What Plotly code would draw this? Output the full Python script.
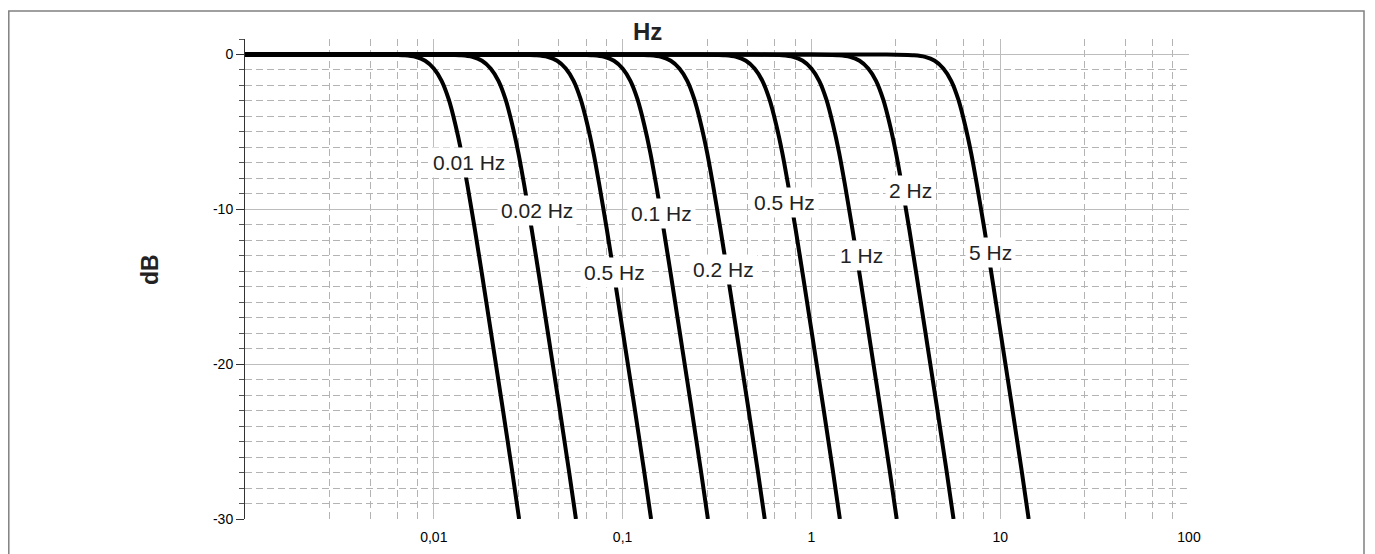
import math
import plotly.graph_objects as go

# ---------------- data ----------------
cutoffs = [0.01, 0.02, 0.05, 0.1, 0.2, 0.5, 1, 2, 5]
label_texts = ["0.01 Hz", "0.02 Hz", "0.5 Hz", "0.1 Hz", "0.2 Hz",
               "0.5 Hz", "1 Hz", "2 Hz", "5 Hz"]
label_freq = [0.0153, 0.0351, 0.0902, 0.1607, 0.344, 0.719, 1.84, 3.34, 8.85]
label_db = [-7.0, -10.1, -14.1, -10.3, -13.9, -9.55, -13.0, -8.8, -12.8]

# flat part of every response starts at the left edge of the chart
flat_start_hz = 0.001
# common response shape (frequency / nominal cutoff, level in dB)
shape_ratio = [0.5, 0.7, 0.8, 0.9, 1.0, 1.1, 1.2, 1.3, 1.4, 1.5, 1.65, 1.8, 2.0, 2.3, 2.6, 2.83]
shape_db = [0, -0.05, -0.15, -0.4, -0.9, -1.7, -2.9, -4.5, -6.3, -8.3, -11.3, -14.2,
            -17.8, -22.6, -26.9, -30]

x_tick_vals = [0.01, 0.1, 1, 10, 100]
x_tick_text = ["0,01", "0,1", "1", "10", "100"]
y_tick_vals = [0, -10, -20, -30]
y_tick_text = ["0", "-10", "-20", "-30"]
decades = [0.001, 0.01, 0.1, 1, 10]
minor_steps = [2.8, 4.6, 6.4, 8.2]

FONT = "Liberation Sans, Arial, Helvetica, sans-serif"
GRID = "#bdbdbd"
MINOR_GRID = "#b3b3b3"

# page offset of the figure (browser body margin)
OFF = 8
PL, PR, PT, PB = 245, 1189, 39, 519  # plot area in page pixels
PW, PH = PR - PL, PB - PT


def px(xp):
    return (xp - PL) / PW


def py(yp):
    return (PB - yp) / PH


fig = go.Figure()
for fc in cutoffs:
    xs = [flat_start_hz] + [fc * r for r in shape_ratio]
    ys = [0] + shape_db
    fig.add_trace(go.Scatter(x=xs, y=ys, mode="lines",
                             line=dict(color="black", width=4, shape="spline", smoothing=0.6),
                             showlegend=False, hoverinfo="skip"))

for t, f, d in zip(label_texts, label_freq, label_db):
    fig.add_annotation(x=math.log10(f), y=d, xref="x", yref="y", text=t,
                       showarrow=False, bgcolor="white", borderpad=3,
                       xanchor="center", yanchor="middle",
                       font=dict(family=FONT, size=21, color="#222222"))

minor_x = [d * m for d in decades for m in minor_steps]

fig.update_layout(
    width=1375, height=554,
    margin=dict(l=PL - OFF, r=1375 + OFF - PR, t=PT - OFF, b=554 + OFF - PB),
    paper_bgcolor="white", plot_bgcolor="white",
    font=dict(family=FONT, color="black"),
    xaxis=dict(type="log", range=[-3, 2], tickmode="array",
               tickvals=x_tick_vals, ticktext=x_tick_text,
               tickfont=dict(size=14, color="black"),
               showgrid=True, gridcolor=GRID, gridwidth=1,
               showline=False, zeroline=False,
               ticks="outside", ticklen=5, tickcolor="rgba(0,0,0,0)",
               minor=dict(tickmode="array", tickvals=minor_x, showgrid=True,
                          gridcolor=MINOR_GRID, griddash="7px,4px", gridwidth=1, ticks="")),
    yaxis=dict(range=[-30, 1], tickmode="array", tickvals=y_tick_vals,
               ticktext=y_tick_text, tickfont=dict(size=14, color="black"),
               showgrid=True, gridcolor=GRID, gridwidth=1,
               showline=True, linecolor="#333333", linewidth=1, zeroline=False,
               ticks="outside", ticklen=8, tickcolor="#333333",
               minor=dict(dtick=1, tick0=0, ticks="outside", ticklen=5,
                          tickcolor="#555555", showgrid=True, gridcolor=MINOR_GRID,
                          griddash="7px,4px", gridwidth=1)),
)

fig.add_annotation(x=px(647), y=py(32), xref="paper", yref="paper",
                   text="<b>Hz</b>", showarrow=False, xanchor="center", yanchor="middle",
                   font=dict(family=FONT, size=24, color="#222222"))
fig.add_annotation(x=px(150), y=py(270), xref="paper", yref="paper",
                   text="<b>dB</b>", showarrow=False, textangle=-90,
                   xanchor="center", yanchor="middle",
                   font=dict(family=FONT, size=23, color="#222222"))

fig.add_shape(type="rect", xref="paper", yref="paper",
              x0=px(8.8), x1=px(1364),
              y0=py(620), y1=py(11),
              line=dict(color="#808080", width=1.5), fillcolor="rgba(0,0,0,0)", layer="below")

fig.write_html("out.html")
